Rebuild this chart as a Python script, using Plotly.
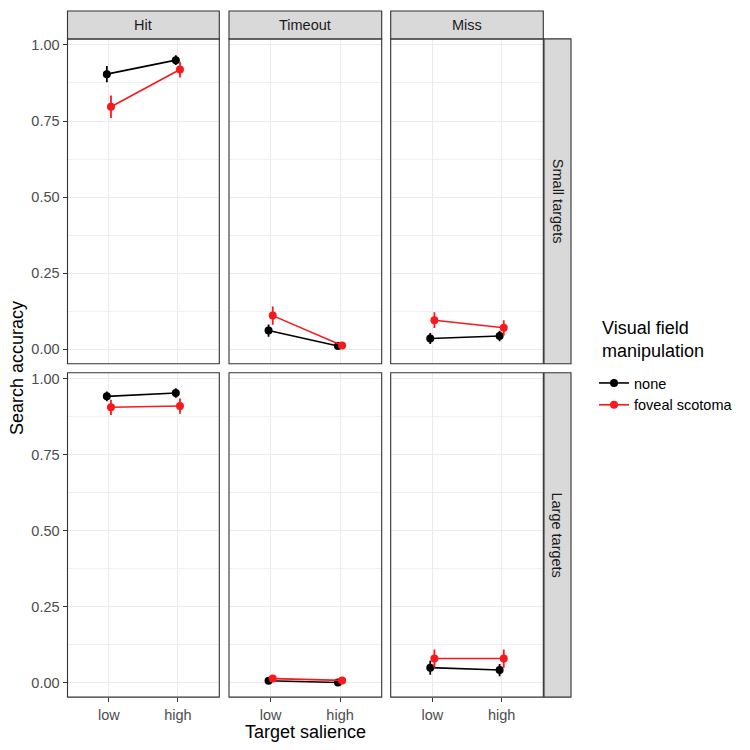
import plotly.graph_objects as go

# ---- data ----
facet_cols = ["Hit", "Timeout", "Miss"]
facet_rows = ["Small targets", "Large targets"]
salience = ["low", "high"]
groups = ["none", "foveal scotoma"]

none_small_mean = {"Hit": [0.904, 0.950], "Timeout": [0.062, 0.011], "Miss": [0.036, 0.044]}
none_small_err = {"Hit": [0.027, 0.016], "Timeout": [0.020, 0.006], "Miss": [0.018, 0.017]}
scot_small_mean = {"Hit": [0.797, 0.919], "Timeout": [0.111, 0.013], "Miss": [0.096, 0.071]}
scot_small_err = {"Hit": [0.037, 0.026], "Timeout": [0.030, 0.006], "Miss": [0.026, 0.025]}
none_large_mean = {"Hit": [0.942, 0.953], "Timeout": [0.007, 0.001], "Miss": [0.050, 0.042]}
none_large_err = {"Hit": [0.016, 0.016], "Timeout": [0.005, 0.003], "Miss": [0.023, 0.020]}
scot_large_mean = {"Hit": [0.906, 0.910], "Timeout": [0.014, 0.008], "Miss": [0.080, 0.080]}
scot_large_err = {"Hit": [0.025, 0.025], "Timeout": [0.005, 0.005], "Miss": [0.030, 0.030]}

y_ticks = [0.0, 0.25, 0.5, 0.75, 1.0]
y_minor = [0.125, 0.375, 0.625, 0.875]

colors = {"none": "#000000", "foveal scotoma": "#F8191E"}
dodge = {"none": -0.03, "foveal scotoma": 0.03}

W = H = 750
col_px = [(67.5, 219.3), (229.0, 381.7), (390.7, 543.3)]
row_px = [(37.0, 362.7), (371.7, 697.0)]
FONT = "Liberation Sans, Arial, sans-serif"
TICK = 14.5
TITLE = 18

fig = go.Figure()
layout = {}
shapes = []
annotations = []

data = {
    ("Small targets", "none"): (none_small_mean, none_small_err),
    ("Small targets", "foveal scotoma"): (scot_small_mean, scot_small_err),
    ("Large targets", "none"): (none_large_mean, none_large_err),
    ("Large targets", "foveal scotoma"): (scot_large_mean, scot_large_err),
}

for r, rname in enumerate(facet_rows):
    for c, cname in enumerate(facet_cols):
        i = r * 3 + c + 1
        xs = "" if i == 1 else str(i)
        xa, ya = "x" + xs, "y" + xs
        x0, x1 = col_px[c]
        y0, y1 = row_px[r]
        layout["xaxis" + xs] = dict(
            domain=[x0 / W, x1 / W], anchor=ya, range=[0.4, 2.6],
            tickvals=[1, 2], ticktext=salience, showticklabels=(r == 1),
            ticks="outside" if r == 1 else "", ticklen=4, tickcolor="#333333", tickwidth=1.1,
            showgrid=True, gridcolor="#EBEBEB", gridwidth=1.1, zeroline=False,
            showline=False, tickfont=dict(size=TICK, color="#4D4D4D", family=FONT),
        )
        layout["yaxis" + xs] = dict(
            domain=[1 - y1 / H, 1 - y0 / H], anchor=xa, range=[-0.047, 1.0197],
            tickvals=y_ticks, tickformat=".2f", showticklabels=(c == 0),
            ticks="outside" if c == 0 else "", ticklen=4, tickcolor="#333333", tickwidth=1.1,
            showgrid=True, gridcolor="#EBEBEB", gridwidth=1.1, zeroline=False,
            showline=False, tickfont=dict(size=TICK, color="#4D4D4D", family=FONT),
            minor=dict(tickvals=y_minor, showgrid=True, gridcolor="#F0F0F0", gridwidth=0.8, ticks=""),
        )
        for g in groups:
            mean, err = data[(rname, g)]
            fig.add_trace(go.Scatter(
                x=[k + 1 + dodge[g] for k in range(len(salience))],
                y=mean[cname],
                error_y=dict(type="data", array=err[cname], visible=True,
                             thickness=1.8, width=0, color=colors[g]),
                mode="lines+markers", name=g,
                line=dict(color=colors[g], width=1.6),
                marker=dict(color=colors[g], size=8),
                xaxis=xa, yaxis=ya, legendgroup=g,
                showlegend=(i == 1),
            ))
        shapes.append(dict(type="rect", xref="paper", yref="paper",
                           x0=x0 / W, x1=x1 / W, y0=1 - y1 / H, y1=1 - y0 / H,
                           line=dict(color="#333333", width=1.1), fillcolor="rgba(0,0,0,0)", layer="above"))

# top strips
for c, cname in enumerate(facet_cols):
    x0, x1 = col_px[c]
    shapes.append(dict(type="rect", xref="paper", yref="paper",
                       x0=x0 / W, x1=x1 / W, y0=1 - 37.0 / H, y1=1 - 9.0 / H,
                       line=dict(color="#333333", width=1.1), fillcolor="#D9D9D9"))
    annotations.append(dict(text=cname, xref="paper", yref="paper", x=(x0 + x1) / 2 / W,
                            y=1 - 23.0 / H, showarrow=False, xanchor="center", yanchor="middle",
                            font=dict(size=TICK, color="#1A1A1A", family=FONT)))
# right strips
for r, rname in enumerate(facet_rows):
    y0, y1 = row_px[r]
    shapes.append(dict(type="rect", xref="paper", yref="paper",
                       x0=544.0 / W, x1=571.0 / W, y0=1 - y1 / H, y1=1 - y0 / H,
                       line=dict(color="#333333", width=1.1), fillcolor="#D9D9D9"))
    annotations.append(dict(text=rname, xref="paper", yref="paper", x=557.5 / W,
                            y=1 - (y0 + y1) / 2 / H, showarrow=False, textangle=90,
                            xanchor="center", yanchor="middle",
                            font=dict(size=TICK, color="#1A1A1A", family=FONT)))

# axis titles
annotations.append(dict(text="Search accuracy", xref="paper", yref="paper", x=17 / W,
                        y=1 - 367 / H, showarrow=False, textangle=-90, xanchor="center",
                        yanchor="middle", font=dict(size=TITLE, color="#000000", family=FONT)))
annotations.append(dict(text="Target salience", xref="paper", yref="paper", x=305.4 / W,
                        y=1 - 732 / H, showarrow=False, xanchor="center", yanchor="middle",
                        font=dict(size=TITLE, color="#000000", family=FONT)))
# legend title
annotations.append(dict(text="Visual field<br>manipulation", xref="paper", yref="paper",
                        x=600 / W, y=1 - 338 / H, showarrow=False, xanchor="left",
                        yanchor="middle", align="left",
                        font=dict(size=TITLE, color="#000000", family=FONT)))

fig.update_layout(
    width=W, height=H, margin=dict(l=0, r=0, t=0, b=0),
    paper_bgcolor="white", plot_bgcolor="white",
    shapes=shapes, annotations=annotations,
    legend=dict(x=594 / W, y=1 - 366 / H, xanchor="left", yanchor="top",
                font=dict(size=TICK, color="#000000", family=FONT), itemwidth=30,
                bgcolor="rgba(0,0,0,0)", tracegroupgap=0),
    **layout,
)

fig.write_html("out.html", config={"displayModeBar": False},
               post_script="document.body.style.margin='0px';")
